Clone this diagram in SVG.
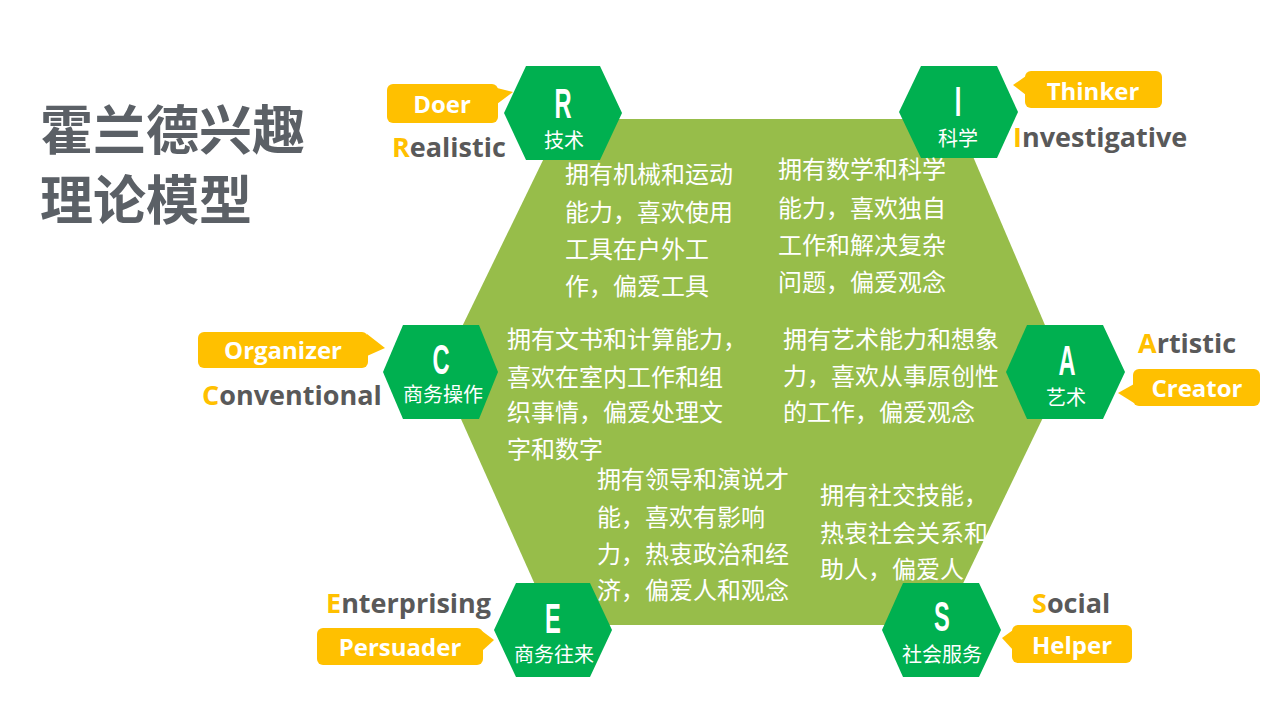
<svg xmlns="http://www.w3.org/2000/svg" width="1280" height="720" viewBox="0 0 1280 720">
<style>
.title{font-family:"Noto Sans CJK SC","Liberation Sans",sans-serif;font-weight:bold;font-size:53px;fill:#5B6066}
.hex{fill:#00B050}
.big{fill:#97BD4A}
.letter{font-family:"Liberation Sans",sans-serif;font-weight:bold;font-size:43px;fill:#fff;text-anchor:middle}
.sub{font-family:"Noto Sans CJK SC",sans-serif;font-size:20px;fill:#fff;text-anchor:middle}
.body{font-family:"Noto Sans CJK SC",sans-serif;font-size:24px;fill:#fff}
.tag{fill:#FFC000}
.tagtxt{font-family:"Open Sans","Liberation Sans",sans-serif;font-weight:bold;font-size:24px;fill:#fff;text-anchor:middle}
.name{font-family:"Open Sans","Liberation Sans",sans-serif;font-weight:bold;font-size:27px;fill:#595959}
.first{fill:#FFC000}
</style>
<rect width="1280" height="720" fill="#fff"/>
<g id="title">
<text class="title" x="40" y="150">霍兰德兴趣</text>
<text class="title" x="40" y="220">理论模型</text>
</g>
<g id="core">
<polygon class="big" points="563,119 957,119 1065,372 943,625 553,625 440,372"/>
</g>
<g id="connectors"></g>
<g id="node-R">
<polygon class="hex" points="504,113 526,66 600,66 622,113 600,160 526,160"/>
<text class="letter" transform="translate(563,118) scale(0.55,1)">R</text>
<text class="sub" x="564" y="148">技术</text>
<rect class="tag" x="387" y="84" width="111" height="39" rx="6"/>
<polygon class="tag" points="497,88 513,92 497,104"/>
<text class="tagtxt" x="442" y="113">Doer</text>
<text class="name" x="392" y="157"><tspan class="first">R</tspan>ealistic</text>
<text class="body" x="565" y="183">拥有机械和运动</text>
<text class="body" x="565" y="221">能力，喜欢使用</text>
<text class="body" x="565" y="258">工具在户外工</text>
<text class="body" x="565" y="295">作，偏爱工具</text>
</g>
<g id="node-I">
<polygon class="hex" points="899,112 921,66 997,66 1018,112 997,158 921,158"/>
<text class="letter" transform="translate(958,116) scale(0.55,1)">I</text>
<text class="sub" x="958" y="146">科学</text>
<rect class="tag" x="1025" y="71" width="137" height="37" rx="6"/>
<polygon class="tag" points="1026,76 1013,85 1026,95"/>
<text class="tagtxt" x="1093" y="100">Thinker</text>
<text class="name" x="1013" y="147"><tspan class="first">I</tspan>nvestigative</text>
<text class="body" x="778" y="178">拥有数学和科学</text>
<text class="body" x="778" y="217">能力，喜欢独自</text>
<text class="body" x="778" y="254">工作和解决复杂</text>
<text class="body" x="778" y="291">问题，偏爱观念</text>
</g>
<g id="node-C">
<polygon class="hex" points="383,372 403,325 479,325 498,372 479,419 403,419"/>
<text class="letter" transform="translate(441,374) scale(0.55,1)">C</text>
<text class="sub" x="443" y="402">商务操作</text>
<rect class="tag" x="198" y="332" width="170" height="36" rx="6"/>
<polygon class="tag" points="367,334 385,348 367,356"/>
<text class="tagtxt" x="283" y="359">Organizer</text>
<text class="name" x="202" y="405"><tspan class="first">C</tspan>onventional</text>
<text class="body" x="507" y="348">拥有文书和计算能力，</text>
<text class="body" x="507" y="386">喜欢在室内工作和组</text>
<text class="body" x="507" y="421">织事情，偏爱处理文</text>
<text class="body" x="507" y="458">字和数字</text>
</g>
<g id="node-A">
<polygon class="hex" points="1006,372 1027,325 1103,325 1125,372 1103,419 1027,419"/>
<text class="letter" transform="translate(1067,375) scale(0.55,1)">A</text>
<text class="sub" x="1066" y="405">艺术</text>
<rect class="tag" x="1133" y="369" width="127" height="37" rx="6"/>
<polygon class="tag" points="1134,384 1118,393 1134,403"/>
<text class="tagtxt" x="1197" y="397">Creator</text>
<text class="name" x="1138" y="353"><tspan class="first">A</tspan>rtistic</text>
<text class="body" x="783" y="348">拥有艺术能力和想象</text>
<text class="body" x="783" y="385">力，喜欢从事原创性</text>
<text class="body" x="783" y="421">的工作，偏爱观念</text>
</g>
<g id="node-E">
<polygon class="hex" points="494,630 516,583 590,583 612,630 590,677 516,677"/>
<text class="letter" transform="translate(553,633) scale(0.55,1)">E</text>
<text class="sub" x="554" y="662">商务往来</text>
<rect class="tag" x="317" y="628" width="166" height="37" rx="6"/>
<polygon class="tag" points="482,631 494,640 482,651"/>
<text class="tagtxt" x="400" y="656">Persuader</text>
<text class="name" x="326" y="613"><tspan class="first">E</tspan>nterprising</text>
<text class="body" x="597" y="488">拥有领导和演说才</text>
<text class="body" x="597" y="526">能，喜欢有影响</text>
<text class="body" x="597" y="563">力，热衷政治和经</text>
<text class="body" x="597" y="599">济，偏爱人和观念</text>
</g>
<g id="node-S">
<polygon class="hex" points="882,630 903,583 979,583 1001,630 979,677 903,677"/>
<text class="letter" transform="translate(942,631) scale(0.55,1)">S</text>
<text class="sub" x="942" y="662">社会服务</text>
<rect class="tag" x="1012" y="625" width="120" height="38" rx="6"/>
<polygon class="tag" points="1013,630 1002,638 1013,650"/>
<text class="tagtxt" x="1072" y="654">Helper</text>
<text class="name" x="1032" y="613"><tspan class="first">S</tspan>ocial</text>
<text class="body" x="820" y="504">拥有社交技能，</text>
<text class="body" x="820" y="542">热衷社会关系和</text>
<text class="body" x="820" y="578">助人，偏爱人</text>
</g>
</svg>
